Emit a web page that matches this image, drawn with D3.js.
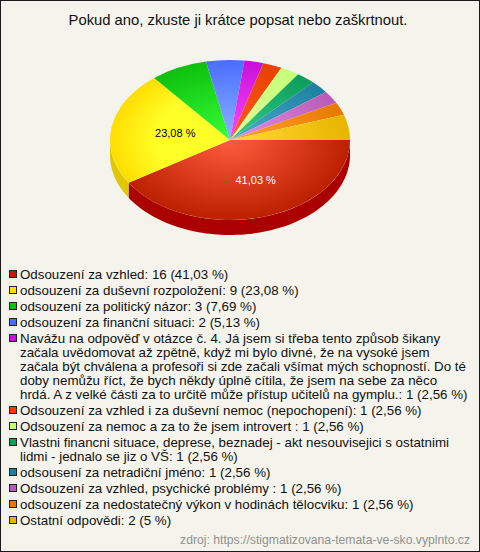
<!DOCTYPE html>
<html><head><meta charset="utf-8">
<script src="https://cdn.jsdelivr.net/npm/d3@7"></script>
<style>html,body{margin:0;padding:0;background:#f4f4ec}svg{display:block}text{font-family:"Liberation Sans",Arial,sans-serif}</style>
</head><body><div id="chart"></div>
<script>
const titleText = "Pokud ano, zkuste ji krátce popsat nebo zaškrtnout.";
const sourceText = "zdroj: https://stigmatizovana-temata-ve-sko.vyplnto.cz";
const counts = [16, 9, 3, 2, 1, 1, 1, 1, 1, 1, 1, 2];
const percentLabels = ["41,03 %", "23,08 %", null, null, null, null, null, null, null, null, null, null];
const legendLines = [
  ["Odsouzení za vzhled: 16 (41,03 %)"],
  ["odsouzení za duševní rozpoložení: 9 (23,08 %)"],
  ["odsouzení za politický názor: 3 (7,69 %)"],
  ["odsouzení za finanční situaci: 2 (5,13 %)"],
  ["Navážu na odpověď v otázce č. 4. Já jsem si třeba tento způsob šikany",
   "začala uvědomovat až zpětně, když mi bylo divné, že na vysoké jsem",
   "začala být chválena a profesoři si zde začali všímat mých schopností. Do té",
   "doby nemůžu říct, že bych někdy úplně cítila, že jsem na sebe za něco",
   "hrdá. A z velké části za to určitě může přístup učitelů na gymplu.: 1 (2,56 %)"],
  ["Odsouzení za vzhled i za duševní nemoc (nepochopení): 1 (2,56 %)"],
  ["Odsouzení za nemoc a za to že jsem introvert : 1 (2,56 %)"],
  ["Vlastni financni situace, deprese, beznadej - akt nesouvisejici s ostatnimi",
   "lidmi - jednalo se jiz o VŠ: 1 (2,56 %)"],
  ["odsousení za netradiční jméno: 1 (2,56 %)"],
  ["Odsouzení za vzhled, psychické problémy : 1 (2,56 %)"],
  ["odsouzení za nedostatečný výkon v hodinách tělocviku: 1 (2,56 %)"],
  ["Ostatní odpovědi: 2 (5 %)"]
];
const legendColors = ["#bb2000","#ffdd00","#0dc00d","#4a6dff","#c810d8","#e84000","#c4ff78","#0a9e5a","#1f7f9f","#b85ab8","#e87800","#e8b400"];
const centerColors = ["#ff5c3e","#ffff28","#38ff38","#8cb4ff","#ff48ff","#ff5c24","#dcff98","#38cc88","#48aed0","#e690e6","#ffa434","#ffdc34"];
const plateaus = [0,.6,0,0,0,0,0,0,0,0,0,0];
const sideColors = ["#aa0000","#e0c800","#0aa00a","#3a55d0","#a00cb0","#c03000","#a0d060","#088048","#186880","#984898","#c06000","#c09000"];

const W = 480, H = 552, cx = 230, cy = 140, rx = 120, ry = 80, depth = 15;
const svg = d3.select("#chart").append("svg").attr("width", W).attr("height", H);
svg.append("rect").attr("x", .5).attr("y", .5).attr("width", W-1).attr("height", H-1)
   .attr("fill", "#f4f4ec").attr("stroke", "#1a1a1a");
svg.append("text").attr("x", 238).attr("y", 25).attr("text-anchor", "middle")
   .attr("font-size", 14.8).attr("fill", "#111").text(titleText);

const defs = svg.append("defs");
const pie = d3.pie().sort(null).startAngle(Math.PI/2).endAngle(Math.PI*2.5);
const arcs = pie(counts);
const arc = d3.arc().innerRadius(0).outerRadius(rx);

const px = a => cx + rx*Math.sin(a), py = a => cy - ry*Math.cos(a);
const rim = d3.area().x(px).y0(py).y1(a => py(a)+depth);
const g0 = svg.append("g");
arcs.forEach((d,i) => {
  const a0 = Math.max(d.startAngle, Math.PI/2), a1 = Math.min(d.endAngle, Math.PI*1.5);
  if (a1 <= a0) return;
  const n = 80, samples = d3.range(n+1).map(k => a0+(a1-a0)*k/n);
  g0.append("path").attr("d", rim(samples)).attr("fill", sideColors[i]);
});

const gp = svg.append("g").attr("transform", `translate(${cx},${cy}) scale(1,${ry/rx})`);
arcs.forEach((d,i) => {
  const lg = defs.append("radialGradient").attr("id", "g"+i).attr("gradientUnits","userSpaceOnUse")
     .attr("cx",0).attr("cy",0).attr("r",rx);
  lg.append("stop").attr("offset",plateaus[i]).attr("stop-color",centerColors[i]);
  lg.append("stop").attr("offset",1).attr("stop-color",legendColors[i]);
  gp.append("path").attr("d", arc(d)).attr("fill", `url(#g${i})`);
});

const labelArc = d3.arc().innerRadius(rx*.5).outerRadius(rx*.5);
const nudges = [[9,2],[4.5,-.5]];
arcs.forEach((d,i) => {
  if (!percentLabels[i]) return;
  const [x,y] = labelArc.centroid(d);
  svg.append("text").attr("x", cx+x+nudges[i][0]).attr("y", cy+y*ry/rx+nudges[i][1]+4)
     .attr("text-anchor","middle").attr("font-size",11)
     .attr("fill", i===0 ? "#fff" : "#000").text(percentLabels[i]);
});

let y = 274;
legendLines.forEach((lines,i) => {
  svg.append("rect").attr("x",9.5).attr("y",y-3.5).attr("width",7).attr("height",7)
     .attr("fill",legendColors[i]).attr("stroke","#222");
  lines.forEach((t,k) => {
    const el = svg.append("text").attr("x",20).attr("y",y+4.5+k*14).attr("font-size",13.33).attr("fill","#111").text(t);
    const maxWidth = 450;
    if (el.node().getComputedTextLength() > maxWidth) el.attr("textLength",maxWidth).attr("lengthAdjust","spacing");
  });
  y += lines.length*14 + 2;
});
svg.append("text").attr("x",470).attr("y",544).attr("text-anchor","end")
   .attr("font-size",12.2).attr("fill","#909090").text(sourceText);
</script></body></html>
